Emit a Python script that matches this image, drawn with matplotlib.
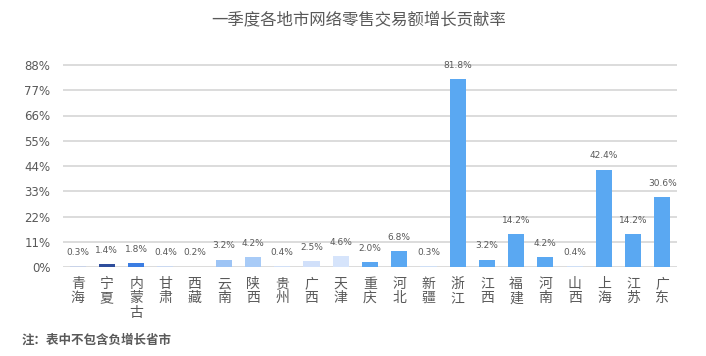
import matplotlib
matplotlib.use("Agg")
import matplotlib.pyplot as plt

plt.rcParams['font.family'] = ['Noto Sans CJK SC', 'DejaVu Sans']

provinces = ["青海", "宁夏", "内蒙古", "甘肃", "西藏", "云南", "陕西", "贵州", "广西", "天津",
             "重庆", "河北", "新疆", "浙江", "江西", "福建", "河南", "山西", "上海", "江苏", "广东"]
values = [0.3, 1.4, 1.8, 0.4, 0.2, 3.2, 4.2, 0.4, 2.5, 4.6,
          2.0, 6.8, 0.3, 81.8, 3.2, 14.2, 4.2, 0.4, 42.4, 14.2, 30.6]
bar_colors = ["#c9d3e8", "#2f4e9c", "#3b7de2", "#cbd9f0", "#cbd9f0", "#9dc4f5", "#a8cbf7",
              "#d2e0f6", "#d1e0fa", "#d6e4fb", "#5aa6f1", "#5aa8f2", "#cfdff5", "#5aa8f2",
              "#5aa8f2", "#5aa8f2", "#5aa8f2", "#cfdff5", "#5aa8f2", "#5aa8f2", "#5aa8f2"]
yticks = [0, 11, 22, 33, 44, 55, 66, 77, 88]
title = "一季度各地市网络零售交易额增长贡献率"
note = "注：表中不包含负增长省市"

W, H = 706, 356
fig = plt.figure(figsize=(W / 100, H / 100), dpi=100)
left, right = 63, 677
y0, y88 = 267, 65
ymax = 89
top_px = y0 - (y0 - y88) * ymax / 88
ax = fig.add_axes([left / W, 1 - y0 / H, (right - left) / W, (y0 - top_px) / H])

text_color = "#595959"
x = range(len(provinces))
ax.bar(x, values, width=0.55, color=bar_colors, zorder=3)
for xi, v in zip(x, values):
    ax.text(xi, v + 4.0, f"{v:.1f}%", ha="center", va="bottom", fontsize=6.5,
            color=text_color, family="DejaVu Sans")

ax.set_ylim(0, ymax)
ax.set_xlim(-0.5, len(provinces) - 0.5)
ax.set_yticks(yticks)
ax.set_yticklabels([f"{t}%" for t in yticks], fontsize=8.5, color=text_color, family="DejaVu Sans")
ax.yaxis.grid(True, color="#d9d9d9", linewidth=1.3, zorder=0)
ax.set_axisbelow(True)
for s in ax.spines.values():
    s.set_visible(False)
ax.tick_params(axis="y", length=0, pad=9)
ax.tick_params(axis="x", length=0, pad=7)
ax.set_xticks(list(x))
ax.set_xticklabels(["\n".join(p) for p in provinces], fontsize=10, color=text_color,
                   linespacing=1.05, va="top")

fig.text(359 / W, 1 - 20 / H, title, ha="center", va="center", fontsize=11.8, color=text_color)
fig.text(22 / W, 1 - 340 / H, note, ha="left", va="center", fontsize=9, color=text_color,
         fontweight="bold")

fig.savefig("out.png", dpi=100)
